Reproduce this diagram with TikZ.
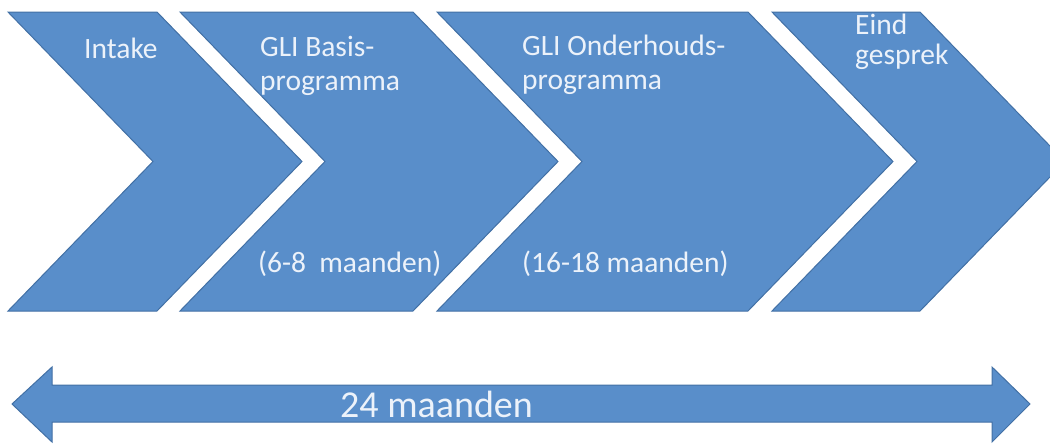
\documentclass[tikz,border=0pt]{standalone}
\usepackage{fontspec}
\setmainfont{Carlito}
\definecolor{phasefill}{RGB}{89,142,202}
\definecolor{phaseline}{RGB}{66,112,165}
\definecolor{phasetext}{RGB}{236,242,250}
\begin{document}
\begin{tikzpicture}[x=1pt,y=-1pt,
  phase/.style={fill=phasefill,draw=phaseline,line width=1pt,line join=miter},
  lbl/.style={anchor=base west,inner sep=0pt,text=phasetext,font=\fontsize{29.5}{35}\selectfont},
  biglbl/.style={anchor=base west,inner sep=0pt,text=phasetext,font=\fontsize{38}{46}\selectfont}]
\useasboundingbox (0,0) rectangle (1050,445);
\clip (0,0) rectangle (1050,445);
% chevrons: top y=12, bottom y=311, point depth 145
\draw[phase] (8,12) -- (157,12) -- (302,161.5) -- (157,311) -- (8,311) -- (153,161.5) -- cycle;
\draw[phase] (180,12) -- (413,12) -- (558,161.5) -- (413,311) -- (180,311) -- (325,161.5) -- cycle;
\draw[phase] (437,12) -- (748,12) -- (893,161.5) -- (748,311) -- (437,311) -- (582,161.5) -- cycle;
\draw[phase] (772,12) -- (920,12) -- (1065,161.5) -- (920,311) -- (772,311) -- (917,161.5) -- cycle;
% double-headed duration arrow
\draw[phase] (12,404) -- (52,367) -- (52,385) -- (992,385) -- (992,367) -- (1030,404)
  -- (992,442) -- (992,422) -- (52,422) -- (52,442) -- cycle;
% labels
\node[lbl] (intake) at (84,58) {Intake};
\node[lbl] (basis1) at (260,56) {GLI Basis-};
\node[lbl] (basis2) at (260,90) {programma};
\node[lbl] (basis3) at (258,272) {(6-8\ \ maanden)};
\node[lbl] (onder1) at (522,55) {GLI Onderhouds-};
\node[lbl] (onder2) at (522,89) {programma};
\node[lbl] (onder3) at (522,272) {(16-18 maanden)};
\node[lbl] (eind1) at (855,34) {Eind};
\node[lbl] (eind2) at (855,64) {gesprek};
\node[biglbl] (total) at (340,417) {24 maanden};
\end{tikzpicture}
\end{document}
